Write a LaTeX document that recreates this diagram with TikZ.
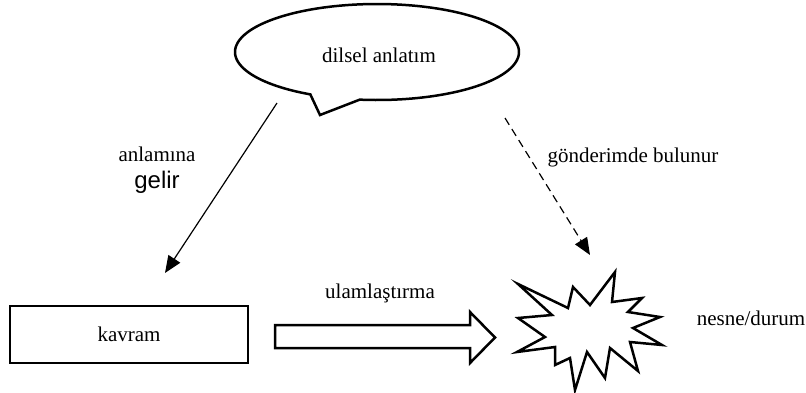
\documentclass[tikz,border=0pt]{standalone}
\usepackage{fontspec}
\setmainfont{Liberation Serif}
\newfontfamily\arialfont{Liberation Sans}
\usetikzlibrary{arrows.meta}
\begin{document}
\begin{tikzpicture}[x=1pt,y=-1pt,
  lbl/.style={anchor=base,inner sep=0pt,font=\fontsize{21}{25}\selectfont},
  thickline/.style={line width=2.5pt,line join=miter},
  conn/.style={line width=1.2pt,-{Triangle[length=17pt,width=14pt]}},
]
\useasboundingbox (0,0) rectangle (806,392);
% speech bubble
\draw[thickline] (320,115) -- plot[domain=118:457,samples=160] ({377+142*cos(\x)},{52+48*sin(\x)}) -- cycle;
\node[lbl] (bubble) at (379,62) {dilsel anlatım};
% concept box
\node[draw,line width=1.3pt,minimum width=238pt,minimum height=57pt,inner sep=0pt,
      font=\fontsize{21}{25}\selectfont] (kavram) at (129,334.5) {kavram};
% block arrow
\draw[thickline] (275,325) -- (470,325) -- (470,312) -- (495,337.5) -- (470,363) -- (470,348) -- (275,348) -- cycle;
% starburst
\draw[thickline] (518,284) -- (568,308) -- (573,287) -- (590,305) -- (615,272) -- (612,302)
  -- (642,298) -- (628,312) -- (660,317) -- (633,328) -- (662,345) -- (630,342)
  -- (638,371) -- (610,348) -- (605,378) -- (587,352) -- (575,390) -- (570,358)
  -- (555,365) -- (555,347) -- (517,352) -- (545,337) -- (518,318) -- (552,315) -- cycle;
\coordinate (burst) at (590,330);
% connectors
\coordinate (s1) at (277,103);
\coordinate (t1) at (165,273);
\draw[conn] (s1) -- (t1);
\coordinate (s2) at (505,118);
\coordinate (t2) at (590,255);
\draw[conn,dash pattern=on 8pt off 5pt] (s2) -- (t2);
% labels
\node[lbl] (lab1) at (157,161) {anlamına};
\node[lbl,font=\arialfont\fontsize{24}{28}\selectfont] (lab1b) at (157,188) {gelir};
\node[lbl] (lab2) at (633,162) {gönderimde bulunur};
\node[lbl] (lab3) at (380,298) {ulamlaştırma};
\node[lbl] (nesne) at (751,325) {nesne/durum};
\end{tikzpicture}
\end{document}
